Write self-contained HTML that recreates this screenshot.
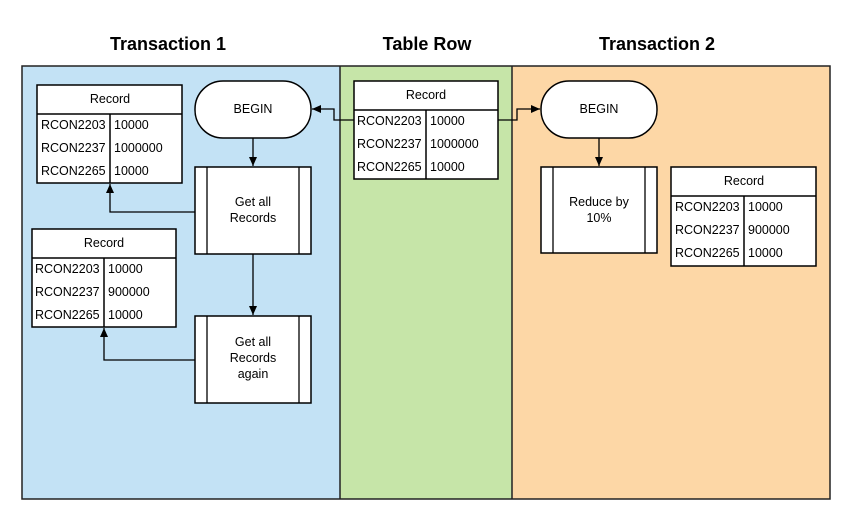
<!DOCTYPE html>
<html><head><meta charset="utf-8"><style>
html,body{margin:0;padding:0;background:#fff;}
svg{display:block;font-family:"Liberation Sans",Arial,sans-serif;}
</style></head><body>
<svg width="854" height="516" viewBox="0 0 854 516" xmlns="http://www.w3.org/2000/svg">
<defs>
<marker id="ar" markerWidth="10" markerHeight="10" refX="9" refY="5" orient="auto" markerUnits="userSpaceOnUse">
<path d="M0,1 L9,5 L0,9 Z" fill="#000"/>
</marker>
</defs>
<g font-weight="bold" font-size="18" text-anchor="middle" fill="#000">
<text x="168" y="50">Transaction 1</text>
<text x="427" y="50">Table Row</text>
<text x="657" y="50">Transaction 2</text>
</g>
<rect x="22" y="66" width="318" height="433" fill="#c3e2f5"/>
<rect x="340" y="66" width="172" height="433" fill="#c6e5a8"/>
<rect x="512" y="66" width="318" height="433" fill="#fdd7a6"/>
<rect x="22" y="66" width="808" height="433" fill="none" stroke="#222" stroke-width="1.5"/>
<line x1="340" y1="66" x2="340" y2="499" stroke="#222" stroke-width="1.5"/>
<line x1="512" y1="66" x2="512" y2="499" stroke="#222" stroke-width="1.5"/>

<g stroke="#000" stroke-width="1.3" fill="none">
<path d="M354,120 H334 V109 H312" marker-end="url(#ar)"/>
<path d="M498,120 H517 V109 H540" marker-end="url(#ar)"/>
<path d="M253,138 V166" marker-end="url(#ar)"/>
<path d="M253,254 V315" marker-end="url(#ar)"/>
<path d="M599,138 V166" marker-end="url(#ar)"/>
<path d="M195,212 H110 V184" marker-end="url(#ar)"/>
<path d="M195,360 H104 V328" marker-end="url(#ar)"/>
</g>

<g stroke="#000" stroke-width="1.5" fill="#fff">
<rect x="195" y="81" width="116" height="57" rx="28"/>
<rect x="541" y="81" width="116" height="57" rx="28"/>
<rect x="195" y="167" width="116" height="87"/>
<rect x="195" y="316" width="116" height="87"/>
<rect x="541" y="167" width="116" height="86"/>
</g>
<g stroke="#000" stroke-width="1.3">
<line x1="207" y1="167" x2="207" y2="254"/><line x1="299" y1="167" x2="299" y2="254"/>
<line x1="207" y1="316" x2="207" y2="403"/><line x1="299" y1="316" x2="299" y2="403"/>
<line x1="553" y1="167" x2="553" y2="253"/><line x1="645" y1="167" x2="645" y2="253"/>
</g>
<g font-size="12.5" text-anchor="middle" fill="#000">
<text x="253" y="113">BEGIN</text>
<text x="599" y="113">BEGIN</text>
<text x="253" y="206">Get all</text><text x="253" y="222">Records</text>
<text x="253" y="346">Get all</text><text x="253" y="362">Records</text><text x="253" y="378">again</text>
<text x="599" y="206">Reduce by</text><text x="599" y="222">10%</text>
</g>

<!-- tables -->
<g font-size="12.5" fill="#000">
<!-- T1 -->
<rect x="37" y="85" width="145" height="98" fill="#fff" stroke="#000" stroke-width="1.5"/>
<line x1="37" y1="114" x2="182" y2="114" stroke="#000" stroke-width="1.5"/>
<line x1="110" y1="114" x2="110" y2="183" stroke="#000" stroke-width="1.5"/>
<text x="110" y="103" text-anchor="middle">Record</text>
<text x="41" y="129">RCON2203</text><text x="114" y="129">10000</text>
<text x="41" y="152">RCON2237</text><text x="114" y="152">1000000</text>
<text x="41" y="175">RCON2265</text><text x="114" y="175">10000</text>
<!-- T2 -->
<rect x="32" y="229" width="144" height="98" fill="#fff" stroke="#000" stroke-width="1.5"/>
<line x1="32" y1="258" x2="176" y2="258" stroke="#000" stroke-width="1.5"/>
<line x1="104" y1="258" x2="104" y2="327" stroke="#000" stroke-width="1.5"/>
<text x="104" y="247" text-anchor="middle">Record</text>
<text x="35" y="273">RCON2203</text><text x="108" y="273">10000</text>
<text x="35" y="296">RCON2237</text><text x="108" y="296">900000</text>
<text x="35" y="319">RCON2265</text><text x="108" y="319">10000</text>
<!-- T3 -->
<rect x="354" y="81" width="144" height="98" fill="#fff" stroke="#000" stroke-width="1.5"/>
<line x1="354" y1="110" x2="498" y2="110" stroke="#000" stroke-width="1.5"/>
<line x1="426" y1="110" x2="426" y2="179" stroke="#000" stroke-width="1.5"/>
<text x="426" y="99" text-anchor="middle">Record</text>
<text x="357" y="125">RCON2203</text><text x="430" y="125">10000</text>
<text x="357" y="148">RCON2237</text><text x="430" y="148">1000000</text>
<text x="357" y="171">RCON2265</text><text x="430" y="171">10000</text>
<!-- T4 -->
<rect x="671" y="167" width="145" height="99" fill="#fff" stroke="#000" stroke-width="1.5"/>
<line x1="671" y1="196" x2="816" y2="196" stroke="#000" stroke-width="1.5"/>
<line x1="744" y1="196" x2="744" y2="266" stroke="#000" stroke-width="1.5"/>
<text x="744" y="185" text-anchor="middle">Record</text>
<text x="675" y="211">RCON2203</text><text x="748" y="211">10000</text>
<text x="675" y="234">RCON2237</text><text x="748" y="234">900000</text>
<text x="675" y="257">RCON2265</text><text x="748" y="257">10000</text>
</g>
</svg>
</body></html>
